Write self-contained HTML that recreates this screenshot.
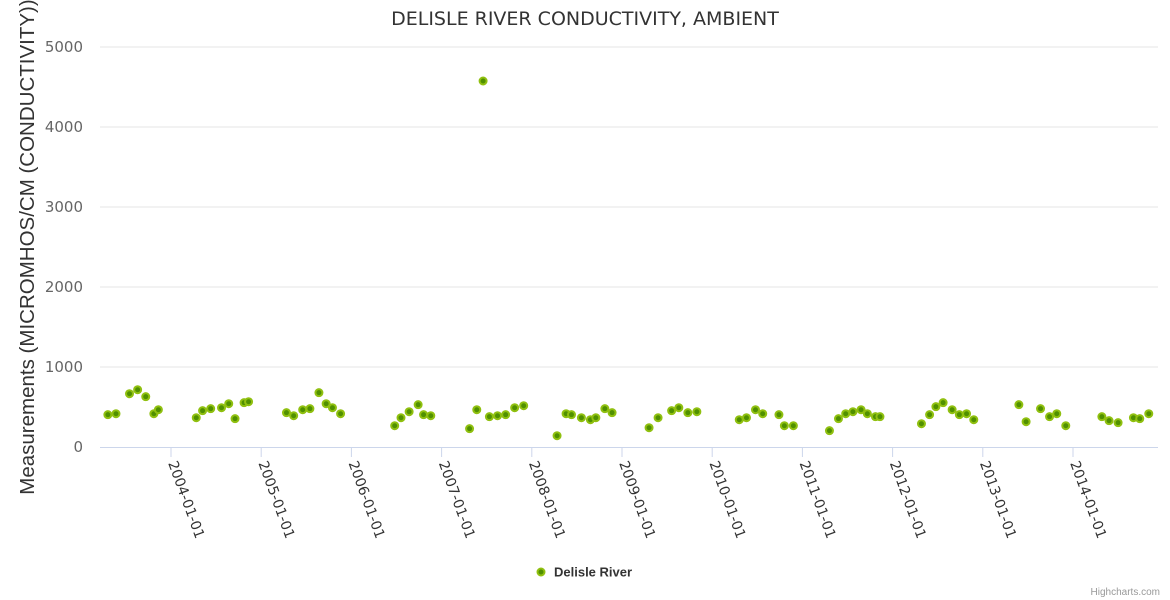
<!DOCTYPE html>
<html><head><meta charset="utf-8"><style>
body{margin:0;background:#fff;}
svg{display:block;font-family:"Liberation Sans",sans-serif;}
</style></head><body>
<svg id="chart" width="1170" height="600">
<rect width="1170" height="600" fill="#fff"/>
<text x="585" y="25" text-anchor="middle" font-size="19" fill="#333" style="font-family:'DejaVu Sans',sans-serif">DELISLE RIVER CONDUCTIVITY, AMBIENT</text>
<text transform="translate(34,247) rotate(-90)" text-anchor="middle" font-size="20.5" fill="#333">Measurements (MICROMHOS/CM (CONDUCTIVITY))</text>
<g id="grid"></g><g id="yticks"></g><g id="xticks"></g><g id="points"></g>
<g>
<circle cx="541" cy="572" r="3.5" fill="#509000" stroke="#90c010" stroke-width="2"/>
<text x="554" y="576.5" font-size="13" font-weight="bold" fill="#333">Delisle River</text>
</g>
<text x="1160" y="595" text-anchor="end" font-size="10" fill="#999">Highcharts.com</text>
</svg>
<script>
const yTicks=[0,1000,2000,3000,4000,5000];
const xTickYears=[2004,2005,2006,2007,2008,2009,2010,2011,2012,2013,2014];
const dates=[2003.30,2003.39,2003.54,2003.63,2003.72,2003.81,2003.86,2004.28,2004.35,2004.44,2004.56,2004.64,2004.71,2004.81,2004.86,2005.28,2005.36,2005.46,2005.54,2005.64,2005.72,2005.79,2005.88,2006.48,2006.55,2006.64,2006.74,2006.80,2006.88,2007.31,2007.39,2007.46,2007.53,2007.62,2007.71,2007.81,2007.91,2008.28,2008.38,2008.44,2008.55,2008.65,2008.71,2008.81,2008.89,2009.30,2009.40,2009.55,2009.63,2009.73,2009.83,2010.30,2010.38,2010.48,2010.56,2010.74,2010.80,2010.90,2011.30,2011.40,2011.48,2011.56,2011.65,2011.72,2011.81,2011.86,2012.32,2012.41,2012.48,2012.56,2012.66,2012.74,2012.82,2012.90,2013.40,2013.48,2013.64,2013.74,2013.82,2013.92,2014.32,2014.40,2014.50,2014.67,2014.74,2014.84];
const values=[404,416,666,716,629,416,466,366,454,479,491,541,354,554,566,429,391,466,479,679,541,491,416,266,366,441,529,404,391,229,466,4575,379,391,404,491,516,141,416,404,366,341,366,479,429,241,366,454,491,429,441,341,366,466,416,404,266,266,204,354,416,441,466,416,379,379,291,404,504,554,466,404,416,341,529,316,479,379,416,266,379,329,304,366,354,416];
const NS="http://www.w3.org/2000/svg";
const L=100,R=1158,Y0=447,Y1=47;
function yS(v){return Y0-(v/5000)*(Y0-Y1);}
function xS(yr){return 171+(yr-2004)*90.2;}
function mk(t,a,p){const e=document.createElementNS(NS,t);for(const k in a)e.setAttribute(k,a[k]);p.appendChild(e);return e;}
const grid=document.getElementById('grid'),yt=document.getElementById('yticks'),xt=document.getElementById('xticks'),pts=document.getElementById('points');
yTicks.forEach(v=>{
 if(v>0){const g=mk('line',{x1:L,x2:R,y1:yS(v),y2:yS(v),stroke:'#e6e6e6','stroke-width':1},grid);
 
 }
 const t=mk('text',{x:83,y:yS(v)+5,'text-anchor':'end','font-size':15,fill:'#666',style:"font-family:'DejaVu Sans',sans-serif"},yt);t.textContent=v;
 
 
});
const ax=mk('line',{x1:L,x2:R,y1:Y0+0.5,y2:Y0+0.5,stroke:'#ccd6eb','stroke-width':1},grid);


xTickYears.forEach(y=>{
 const x=xS(y);
 const tk=mk('line',{x1:x,x2:x,y1:Y0,y2:Y0+10,stroke:'#ccd6eb'},xt);
 
 
 const t=mk('text',{transform:`translate(${x-3},${Y0+16}) rotate(70)`,'font-size':14,fill:'#333',style:"font-family:'DejaVu Sans',sans-serif"},xt);
 t.textContent=y+'-01-01';
 
 
});
dates.forEach((d,i)=>{
 const c=mk('circle',{cx:xS(d),cy:yS(values[i]),r:3.5,fill:'#509000',stroke:'#90c010','stroke-width':2},pts);
 
 
});
</script>
</body></html>
